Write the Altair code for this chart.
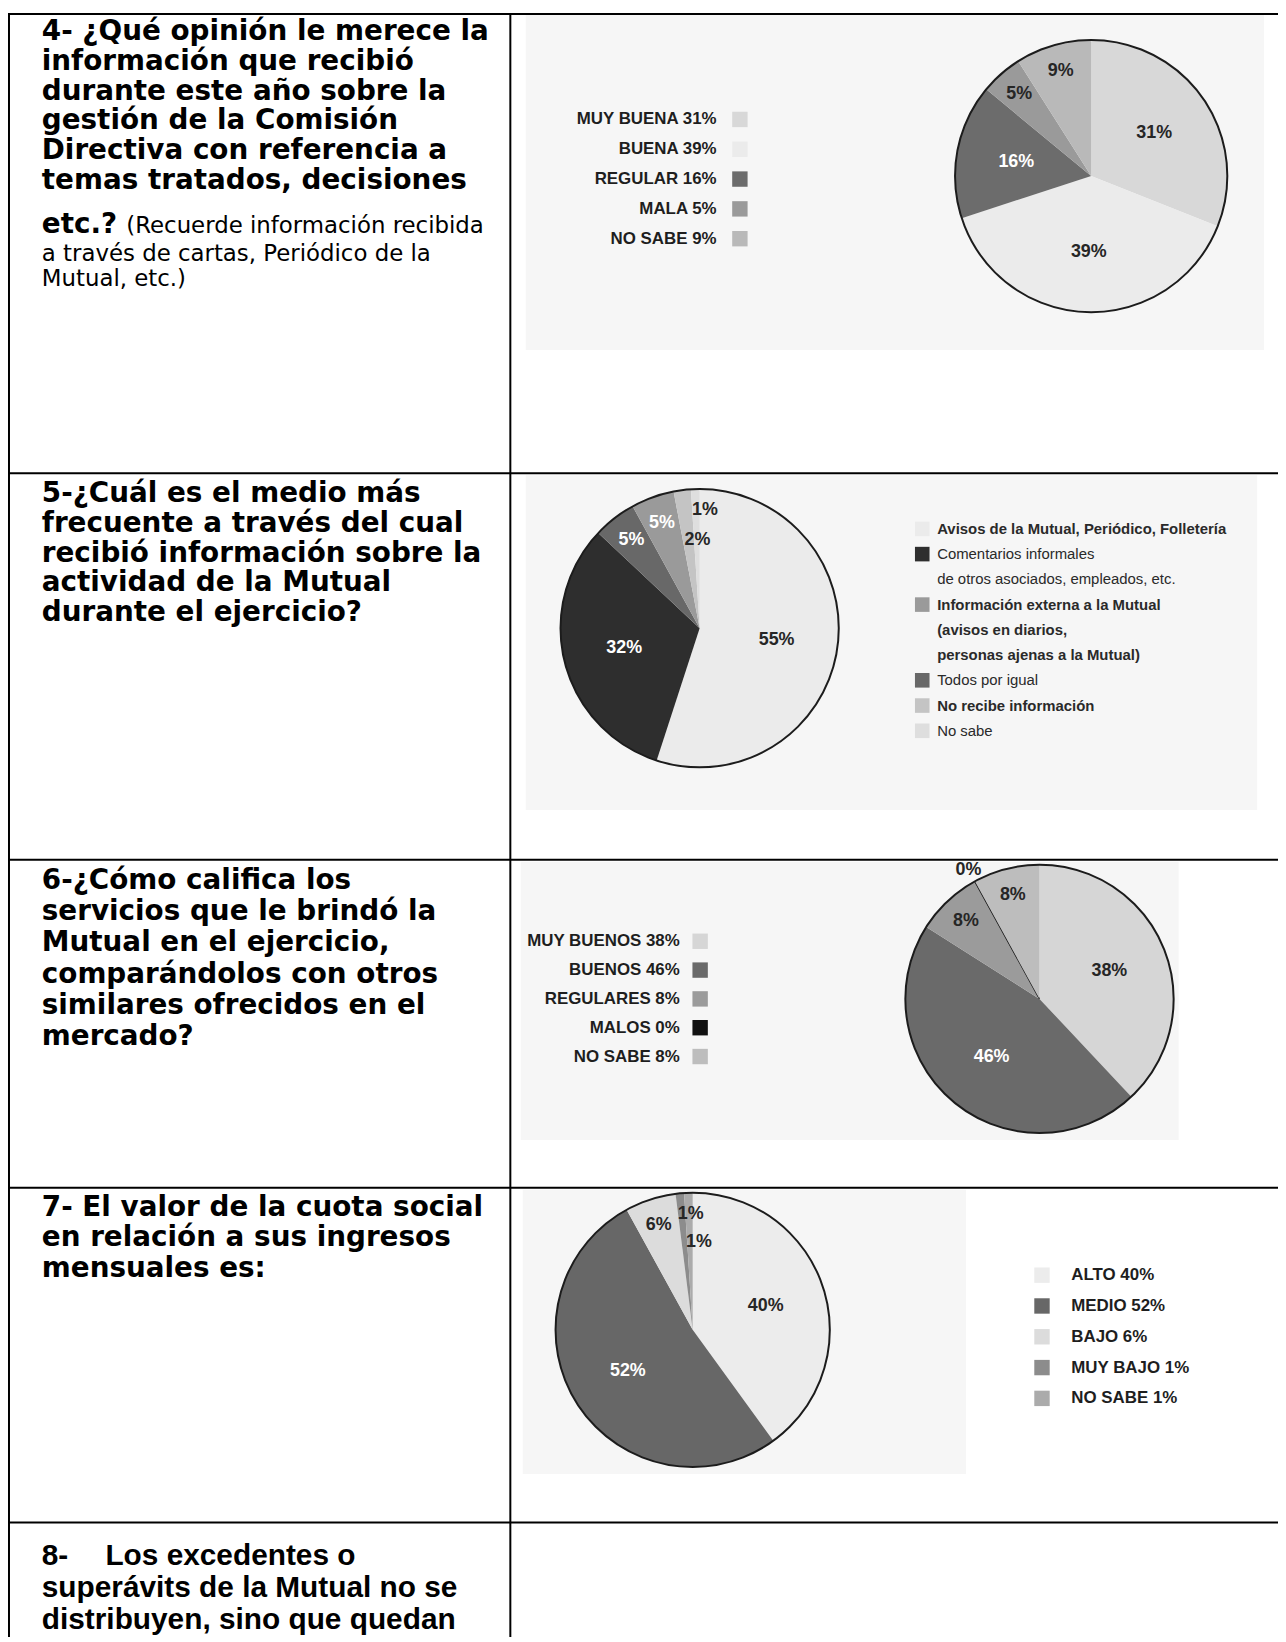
import json
import math
import altair as alt
import pandas as pd

# ---------------- data ----------------
q4_lines = ["4- ¿Qué opinión le merece la", "información que recibió", "durante este año sobre la",
            "gestión de la Comisión", "Directiva con referencia a", "temas tratados, decisiones", "etc.?"]
q4_note = ["(Recuerde información recibida", "a través de cartas, Periódico de la", "Mutual, etc.)"]
q5_lines = ["5-¿Cuál es el medio más", "frecuente a través del cual", "recibió información sobre la",
            "actividad de la Mutual", "durante el ejercicio?"]
q6_lines = ["6-¿Cómo califica los", "servicios que le brindó la", "Mutual en el ejercicio,",
            "comparándolos con otros", "similares ofrecidos en el", "mercado?"]
q7_lines = ["7- El valor de la cuota social", "en relación a sus ingresos", "mensuales es:"]
q8_num = "8-"
q8_lines = ["Los excedentes o", "superávits de la Mutual no se", "distribuyen, sino que quedan"]

p1_cats = ["MUY BUENA", "BUENA", "REGULAR", "MALA", "NO SABE"]
p1_vals = [31, 39, 16, 5, 9]

p2_cats = ["Avisos", "Comentarios", "Todos", "Externa", "No recibe", "No sabe"]
p2_vals = [55, 32, 5, 5, 2, 1]
p2_legend_cats = ["Avisos", "Comentarios", "Externa", "Todos", "No recibe", "No sabe"]
p2_legend_text = [["Avisos de la Mutual, Periódico, Folletería"],
                  ["Comentarios informales", "de otros asociados, empleados, etc."],
                  ["Información externa a la Mutual", "(avisos en diarios,", "personas ajenas a la Mutual)"],
                  ["Todos por igual"],
                  ["No recibe información"],
                  ["No sabe"]]
p2_legend_bold = [True, False, True, False, True, False]

p3_cats = ["MUY BUENOS", "BUENOS", "REGULARES", "MALOS", "NO SABE"]
p3_vals = [38, 46, 8, 0, 8]

p4_cats = ["ALTO", "MEDIO", "BAJO", "MUY BAJO", "NO SABE"]
p4_vals = [40, 52, 6, 1, 1]

# ---------------- styles ----------------
p1_colors = ["#d8d8d8", "#ebebeb", "#6c6c6c", "#9a9a9a", "#b9b9b9"]
p2_colors = ["#ebebeb", "#2e2e2e", "#686868", "#9a9a9a", "#c4c4c4", "#dedede"]
p3_colors = ["#d6d6d6", "#6a6a6a", "#9b9b9b", "#111111", "#bdbdbd"]
p4_colors = ["#ececec", "#676767", "#dcdcdc", "#8c8c8c", "#ababab"]

QFONT = "DejaVu Sans"
SANS = "Liberation Sans, Arial, sans-serif"

W, H = 1278, 1634
OX, OY = 8, 8
TWO_PI = 2 * math.pi


def cx(v):
    return v - OX


def cy(v):
    return v - OY


layers = []

# ---------- scanned-image backgrounds ----------
bg_boxes = [(529, 1272, 10, 347), (529, 1265, 473, 810), (524, 1186, 862, 1142), (526, 972, 1192, 1478)]
bg_df = pd.DataFrame([{"x": cx(a), "x2": cx(b), "y": cy(c), "y2": cy(d)} for a, b, c, d in bg_boxes])
layers.append(alt.Chart(bg_df).mark_rect(color="#f6f6f6").encode(
    x=alt.X("x:Q", scale=None), x2="x2:Q", y=alt.Y("y:Q", scale=None), y2="y2:Q"))

# ---------- table grid ----------
row_lines = [471, 860, 1190, 1527]
segs = [{"x": 0, "x2": W, "y": 1, "y2": 1},
        {"x": 1, "x2": 1, "y": 0, "y2": H},
        {"x": cx(513.5), "x2": cx(513.5), "y": 0, "y2": H}]
for r in row_lines:
    segs.append({"x": 0, "x2": W, "y": cy(r), "y2": cy(r)})
grid_df = pd.DataFrame(segs)
layers.append(alt.Chart(grid_df).mark_rule(color="black", strokeWidth=2).encode(
    x=alt.X("x:Q", scale=None), x2="x2:Q", y=alt.Y("y:Q", scale=None), y2="y2:Q"))


# ---------- question texts ----------
def text_layer(df, **mk):
    return alt.Chart(df).mark_text(align="left", baseline="alphabetic", **mk).encode(
        x=alt.X("x:Q", scale=None), y=alt.Y("y:Q", scale=None), text="t:N")


TX = 42
bold_rows = []
q4_y = [35, 65, 95, 125, 155, 185, 229]
for t, y in zip(q4_lines, q4_y):
    bold_rows.append({"t": t, "x": cx(TX), "y": cy(y)})
for lines, y0, dy in [(q5_lines, 500, 30), (q6_lines, 889, 31.5), (q7_lines, 1218, 31)]:
    for i, t in enumerate(lines):
        bold_rows.append({"t": t, "x": cx(TX), "y": cy(y0 + i * dy)})
layers.append(text_layer(pd.DataFrame(bold_rows), font=QFONT, fontWeight="bold", fontSize=28, color="black"))

note_pos = [(127, 229), (TX, 257), (TX, 283)]
note_df = pd.DataFrame([{"t": t, "x": cx(x), "y": cy(y)} for t, (x, y) in zip(q4_note, note_pos)])
layers.append(text_layer(note_df, font=QFONT, fontSize=23, color="black"))

r5_rows = [{"t": q8_num, "x": cx(TX), "y": cy(1570)}]
r5_x = [106, TX, TX]
for i, t in enumerate(q8_lines):
    r5_rows.append({"t": t, "x": cx(r5_x[i]), "y": cy(1570 + i * 32)})
layers.append(text_layer(pd.DataFrame(r5_rows), font=SANS, fontWeight="bold", fontSize=30, color="black"))


# ---------- pies ----------
def pie(cats, vals, colors, center, r, white_cats):
    df = pd.DataFrame({"cat": cats, "v": vals, "o": list(range(len(cats)))})
    px_, py_ = cx(center[0]), cy(center[1])
    tscale = alt.Scale(domain=[0, 100], range=[0, TWO_PI])
    base = alt.Chart(df).transform_window(
        cum="sum(v)", sort=[alt.SortField("o")], frame=[None, 0]
    ).transform_calculate(
        start="datum.cum - datum.v", mid="datum.cum - datum.v / 2", lab="datum.v + '%'"
    ).encode(x=alt.value(px_), y=alt.value(py_))
    wedges = base.mark_arc(radius=r, strokeWidth=1.4).encode(
        theta=alt.Theta("start:Q", scale=tscale, stack=False),
        theta2="cum:Q",
        color=alt.Color("cat:N", scale=alt.Scale(domain=cats, range=colors), legend=None),
        stroke=alt.condition("datum.v == 0", alt.value("#111111"), alt.value("transparent")))
    outline = alt.Chart(pd.DataFrame({"k": [0]})).mark_point(
        shape="circle", size=(2 * r) ** 2, filled=False, color="#1c1c1c",
        strokeWidth=2, opacity=1).encode(x=alt.value(px_), y=alt.value(py_))
    test = "indexof(" + json.dumps(white_cats) + ", datum.cat) >= 0"
    lab_base = base.transform_calculate(
        lr=(f"datum.v >= 10 ? {0.56 * r} : (datum.v >= 3 ? {0.8 * r} : "
            f"(datum.v > 0 ? (datum.o % 2 == 0 ? {0.64 * r} : {0.85 * r}) : {1.1 * r}))")
    ).encode(
        theta=alt.Theta("mid:Q", scale=tscale, stack=False),
        radius=alt.Radius("lr:Q", scale=None),
        text="lab:N",
        color=alt.condition(test, alt.value("white"), alt.value("#262626")))
    big = lab_base.transform_filter("datum.v >= 3 || datum.v == 0").mark_text(
        font=SANS, fontSize=18, fontWeight="bold")
    small = lab_base.transform_filter("datum.v > 0 && datum.v < 3").mark_text(
        font=SANS, fontSize=18, fontWeight="bold", dx=9)
    return [wedges, outline, big, small]


layers += pie(p1_cats, p1_vals, p1_colors, (1098, 172), 137, ["REGULAR"])
layers += pie(p2_cats, p2_vals, p2_colors, (704, 627), 140, ["Comentarios", "Todos", "Externa"])
layers += pie(p3_cats, p3_vals, p3_colors, (1046, 1000), 135, ["BUENOS"])
layers += pie(p4_cats, p4_vals, p4_colors, (697, 1333), 138, ["MEDIO"])


# ---------- legends ----------
def legend_block(cats, vals, colors, text_x, align, sq_x, y0, dy, sq_size):
    df = pd.DataFrame({"cat": cats, "v": vals, "i": list(range(len(cats)))})
    base = alt.Chart(df).transform_calculate(
        yy=f"{cy(y0)} + datum.i * {dy}", lab="datum.cat + ' ' + datum.v + '%'")
    sq = base.mark_square(size=sq_size, opacity=1).encode(
        x=alt.value(cx(sq_x)), y=alt.Y("yy:Q", scale=None),
        color=alt.Color("cat:N", scale=alt.Scale(domain=cats, range=colors), legend=None))
    tx = base.mark_text(align=align, baseline="middle", font=SANS, fontSize=17,
                        fontWeight="bold", color="#1e1e1e").encode(
        x=alt.value(cx(text_x)), y=alt.Y("yy:Q", scale=None), text="lab:N")
    return [sq, tx]


layers += legend_block(p1_cats, p1_vals, p1_colors, 721, "right", 744.5, 115, 30, 240)
layers += legend_block(p3_cats, p3_vals, p3_colors, 684, "right", 704.5, 942, 29, 240)
layers += legend_block(p4_cats, p4_vals, p4_colors, 1078, "left", 1048.5, 1278, 31, 240)

# legend for pie 2 (multi-line entries)
l2_rows = []
k = 0
for cat, lines, bold in zip(p2_legend_cats, p2_legend_text, p2_legend_bold):
    for j, line in enumerate(lines):
        l2_rows.append({"t": line, "cat": cat if j == 0 else "", "b": 1 if bold else 0,
                        "y": cy(527 + k * 25.4)})
        k += 1
l2_df = pd.DataFrame(l2_rows)
l2_base = alt.Chart(l2_df)
layers.append(l2_base.transform_filter("datum.cat != ''").mark_square(size=215, opacity=1).encode(
    x=alt.value(cx(928)), y=alt.Y("y:Q", scale=None),
    color=alt.Color("cat:N", scale=alt.Scale(domain=p2_cats, range=p2_colors), legend=None)))
for b, wt in [(1, "bold"), (0, "normal")]:
    layers.append(l2_base.transform_filter(f"datum.b == {b}").mark_text(
        align="left", baseline="middle", font=SANS, fontSize=15, fontWeight=wt,
        color="#2a2a2a").encode(x=alt.value(cx(943)), y=alt.Y("y:Q", scale=None), text="t:N"))

chart = alt.layer(*layers).resolve_scale(
    theta="independent", color="independent"
).properties(
    width=W, height=H, padding=0, autosize=alt.AutoSizeParams(type="none"), background="white"
).configure_view(strokeWidth=0)

chart.save("out.html", embed_options={"renderer": "svg", "actions": False})
